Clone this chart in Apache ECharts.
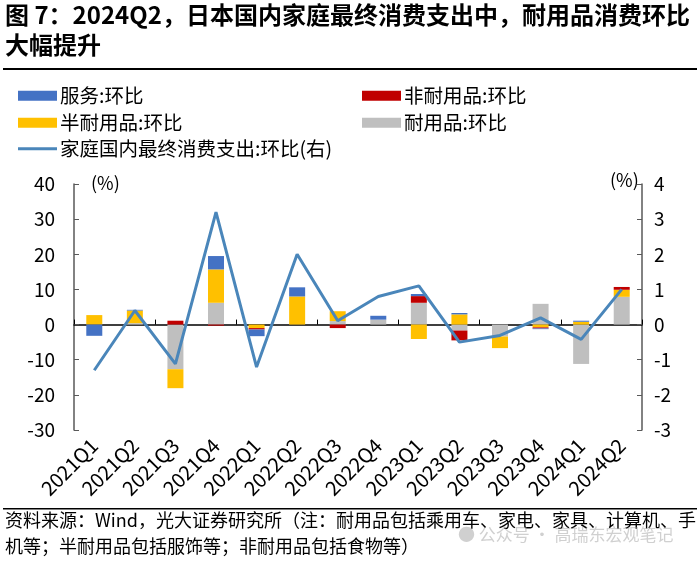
<!DOCTYPE html>
<html>
<head>
<meta charset="utf-8">
<script src="https://cdn.jsdelivr.net/npm/echarts@6/dist/echarts.min.js"></script>
<style>
html,body{margin:0;padding:0;background:#fff;}
#c{width:700px;height:563px;}
</style>
</head>
<body>
<div id="c"></div>
<script>
var categories = ['2021Q1','2021Q2','2021Q3','2021Q4','2022Q1','2022Q2','2022Q3','2022Q4','2023Q1','2023Q2','2023Q3','2023Q4','2024Q1','2024Q2'];
var services    = [-3.2, 0.2, 0,    3.8, -1.9, 2.6, 0,   1.1, 0.6, 0.4, 0,    -0.2, 0.3, 0];
var nonDurable  = [0,    0,   1.1, -0.3, -0.4, 0,  -1.0, 0,   1.9, -2.8, 0,   -0.3, 0,   0.8];
var semiDurable = [2.7,  3.6, -5.4, 9.5, -1.0, 8.0, 2.8, 0,  -4.1, 2.9, -3.3, -0.8, 0.8, 2.0];
var durable     = [0,    0.4, -12.7, 6.2, 0,   0,   1.0, 1.4, 6.2, -1.7, -3.4, 5.9, -11.2, 7.9];
var household   = [-1.3, 0.4, -1.12, 3.2, -1.21, 2.0, 0.11, 0.8, 1.1, -0.5, -0.31, 0.19, -0.42, 1.0];
var leftTicks = {min: -30, max: 40, interval: 10};
var rightTicks = {min: -3, max: 4, interval: 1};

var names = ['服务:环比','非耐用品:环比','半耐用品:环比','耐用品:环比','家庭国内最终消费支出:环比(右)'];
var colors = {s:'#4472C4', n:'#C00000', h:'#FFC000', d:'#BFBFBF', l:'#4A86BA'};
var FONT = '"Noto Sans CJK SC","Noto Sans",sans-serif';

var chart = echarts.init(document.getElementById('c'), null, {renderer:'canvas'});
function leg(name, left, top, icon, ih){
  return {data:[name], left:left, top:top, itemWidth:39, itemHeight:ih||10, icon:icon||'rect',
    itemGap:0, padding:0, textStyle:{fontSize:19.5, color:'#000', fontFamily:FONT, padding:[0,0,0,-2]}, selectedMode:false};
}
function barSeries(name, data, color){
  return {name:name, type:'bar', stack:'t', data:data, barWidth:16, itemStyle:{color:color},
    xAxisIndex:0, yAxisIndex:0, animation:false};
}
var axisColor = '#595959';
var option = {
  animation:false,
  textStyle:{fontFamily:FONT},
  graphic:[
    {type:'text', left:5, top:3, style:{text:'图 7：2024Q2，日本国内家庭最终消费支出中，耐用品消费环比', fontSize:24, fontWeight:'bold', fill:'#000', fontFamily:FONT}},
    {type:'text', left:5, top:33, style:{text:'大幅提升', fontSize:24, fontWeight:'bold', fill:'#000', fontFamily:FONT}},
    {type:'rect', shape:{x:3, y:68, width:694, height:2}, style:{fill:'#000'}},
    {type:'rect', shape:{x:3, y:508, width:694, height:1.5}, style:{fill:'#000'}},
    {type:'text', left:91, top:174, style:{text:'(%)', fontSize:18, fill:'#000', fontFamily:FONT}},
    {type:'text', left:610, top:171, style:{text:'(%)', fontSize:18, fill:'#000', fontFamily:FONT}},
    {type:'text', left:5, top:511, style:{text:'资料来源：Wind，光大证券研究所（注：耐用品包括乘用车、家电、家具、计算机、手', fontSize:18, fill:'#000', fontFamily:FONT}},
    {type:'text', left:5, top:537, style:{text:'机等；半耐用品包括服饰等；非耐用品包括食物等）', fontSize:18, fill:'#000', fontFamily:FONT}},
    {type:'text', left:458, top:526, style:{text:'● 公众号 · 高瑞东宏观笔记', fontSize:17, fill:'rgba(150,150,150,0.45)', fontFamily:FONT}}
  ],
  legend:[
    leg(names[0], 18, 86),
    leg(names[1], 362, 86),
    leg(names[2], 18, 113),
    leg(names[3], 362, 113),
    leg(names[4], 18, 139, 'rect', 3)
  ],
  grid:{left:74, right:58, top:184, bottom:133, containLabel:false},
  xAxis:[
    {type:'category', data:categories, position:'bottom', axisLine:{show:false, onZero:false}, axisTick:{show:false},
     axisLabel:{rotate:45, fontSize:20, color:'#000', margin:12, interval:0, fontFamily:FONT}},
    {type:'category', data:categories, position:'bottom', axisLine:{show:true, onZero:true, lineStyle:{color:'#000', width:1.5}},
     axisTick:{show:true, inside:true, length:5, lineStyle:{color:'#000'}}, axisLabel:{show:false}}
  ],
  yAxis:[
    {type:'value', min:leftTicks.min, max:leftTicks.max, interval:leftTicks.interval, splitLine:{show:false},
     axisLine:{show:true, lineStyle:{color:axisColor, width:1.5}}, axisTick:{show:true, inside:true, length:5, lineStyle:{color:axisColor}},
     axisLabel:{fontSize:19, color:'#000', margin:19, fontFamily:FONT}},
    {type:'value', min:rightTicks.min, max:rightTicks.max, interval:rightTicks.interval, splitLine:{show:false}, position:'right',
     axisLine:{show:true, lineStyle:{color:axisColor, width:1.5}}, axisTick:{show:true, inside:true, length:5, lineStyle:{color:axisColor}},
     axisLabel:{fontSize:19, color:'#000', margin:12, fontFamily:FONT}}
  ],
  series:[
    barSeries(names[3], durable, colors.d),
    barSeries(names[2], semiDurable, colors.h),
    barSeries(names[1], nonDurable, colors.n),
    barSeries(names[0], services, colors.s),
    {name:names[4], type:'line', data:household, xAxisIndex:0, yAxisIndex:1, symbol:'none',
     lineStyle:{color:colors.l, width:3}, itemStyle:{color:colors.l}, z:5, animation:false}
  ]
};
chart.setOption(option);
</script>
</body>
</html>
